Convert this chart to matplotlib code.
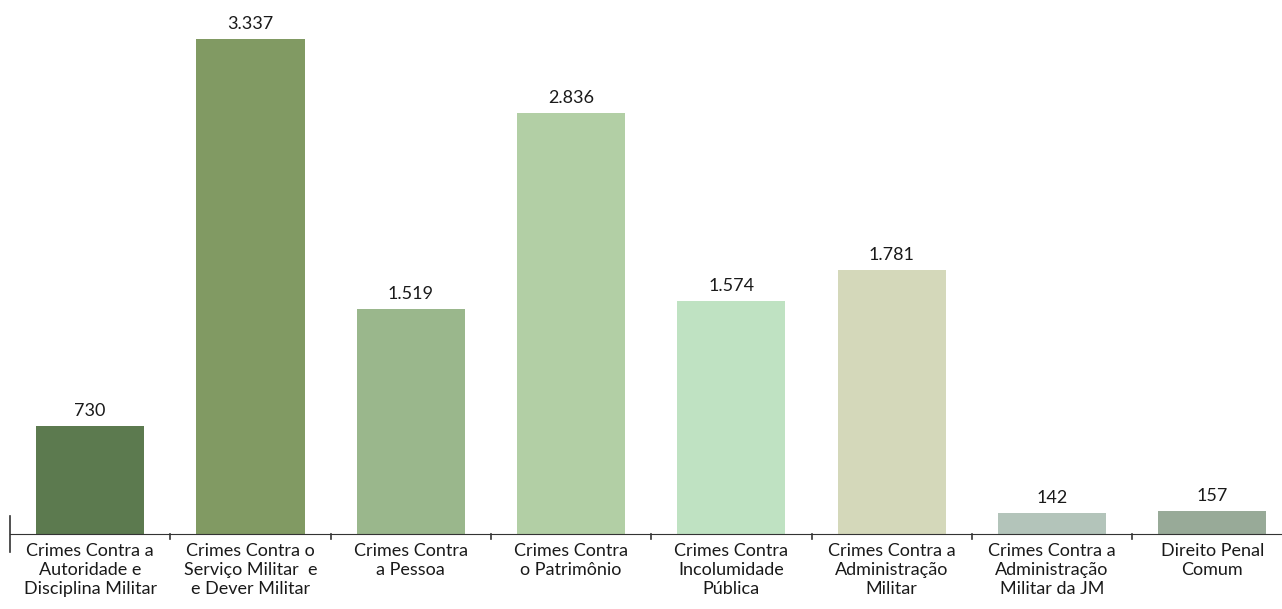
import matplotlib.pyplot as plt
import matplotlib.transforms as mtransforms
import numpy as np

categories = ["Crimes Contra a\nAutoridade e\nDisciplina Militar",
              "Crimes Contra o\nServiço Militar  e\ne Dever Militar",
              "Crimes Contra\na Pessoa",
              "Crimes Contra\no Patrimônio",
              "Crimes Contra\nIncolumidade\nPública",
              "Crimes Contra a\nAdministração\nMilitar",
              "Crimes Contra a\nAdministração\nMilitar da JM",
              "Direito Penal\nComum"]
values = [730, 3337, 1519, 2836, 1574, 1781, 142, 157]
value_labels = ["730", "3.337", "1.519", "2.836", "1.574", "1.781", "142", "157"]
colors = ["#5c7a4f", "#819a63", "#9ab78c", "#b2cfa5", "#bfe2c2",
          "#d4d8ba", "#b3c4ba", "#98aa98"]

plt.rcParams['font.family'] = ['Lato', 'DejaVu Sans']

fig = plt.figure(figsize=(12.82, 6.09), dpi=100)
ax = fig.add_axes([10/1282, 75/609, 1272/1282, 534/609])

x = np.arange(len(values))
ax.bar(x, values, width=0.675, color=colors)
for xi, v, lab in zip(x, values, value_labels):
    ax.annotate(lab, (xi, v), xytext=(0, 5), textcoords="offset points",
                ha="center", va="bottom", fontsize=13, color="#1a1a1a")

ax.set_xlim(-0.5, -0.5 + 1272/160.3)
ax.set_ylim(0, 3600)
for s in ["top", "right", "left"]:
    ax.spines[s].set_visible(False)
ax.spines["bottom"].set_color("#333333")
ax.set_yticks([])
ax.set_xticks([])

trans = mtransforms.blended_transform_factory(ax.transData, ax.transAxes)
for i, lab in enumerate(categories):
    ax.text(i, -0.016, lab, transform=trans, ha="center", va="top",
            fontsize=13, linespacing=1.25, color="#1a1a1a")

# boundary tick marks
for b in np.arange(0.5, len(values), 1.0):
    ax.plot([b, b], [0, -0.01], transform=trans, color="#333333",
            lw=1.2, clip_on=False)
ax.plot([-0.5, -0.5], [0.034, -0.034], transform=trans, color="#333333",
        lw=1.2, clip_on=False)

fig.savefig("out.png", dpi=100)
